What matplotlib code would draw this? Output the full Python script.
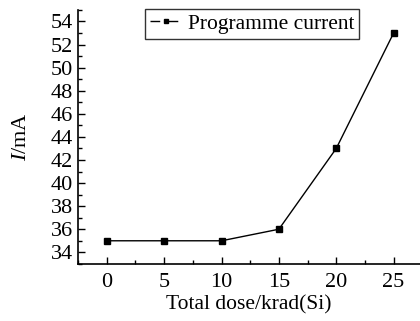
import matplotlib
matplotlib.use('Agg')
import matplotlib.pyplot as plt
from matplotlib.lines import Line2D
from matplotlib.ticker import MultipleLocator

plt.rcParams['font.family'] = ['Liberation Serif', 'DejaVu Serif']
plt.rcParams['mathtext.fontset'] = 'custom'
plt.rcParams['mathtext.it'] = 'Liberation Serif:italic'
plt.rcParams['mathtext.rm'] = 'Liberation Serif'

dose = [0, 5, 10, 15, 20, 25]
current = [35, 35, 35, 36, 43, 53]

fig = plt.figure(figsize=(4.2, 3.21), dpi=100)
ax = fig.add_axes([0.186, 0.178, 0.814, 0.791])

ax.plot(dose, current, color='black', lw=1, marker='s', ms=4.5)

ax.set_xlim(-2.5, 27.3)
ax.set_ylim(33, 55)
ax.xaxis.set_major_locator(MultipleLocator(5))
ax.xaxis.set_minor_locator(MultipleLocator(2.5))
ax.yaxis.set_major_locator(MultipleLocator(2))
ax.yaxis.set_minor_locator(MultipleLocator(1))
ax.tick_params(which='both', direction='in', labelsize=16, width=1)
ax.tick_params(which='major', length=5)
ax.tick_params(which='minor', length=3)
ax.tick_params(axis='x', pad=6.5)
ax.tick_params(axis='y', pad=4)

for s in ['top', 'right']:
    ax.spines[s].set_visible(False)
for s in ['left', 'bottom']:
    ax.spines[s].set_linewidth(1.2)

ax.set_xlabel('Total dose/krad(Si)', fontsize=15.5, labelpad=2.5)
ax.set_ylabel('$I$/mA', fontsize=16, labelpad=14)

# legend handle drawn as "-▪-"
proxy = Line2D([], [], color='black', lw=1, marker='s', ms=3.5,
               linestyle=(0, (7, 6)))
leg = ax.legend([proxy], ['Programme current'], loc='upper left',
                bbox_to_anchor=(0.197, 1.003), fontsize=15.5,
                frameon=True, fancybox=False, edgecolor='black',
                handlelength=1.5, handletextpad=0.25, borderpad=0.22,
                borderaxespad=0)
leg.get_frame().set_linewidth(1)

fig.savefig('out.png', dpi=100)
